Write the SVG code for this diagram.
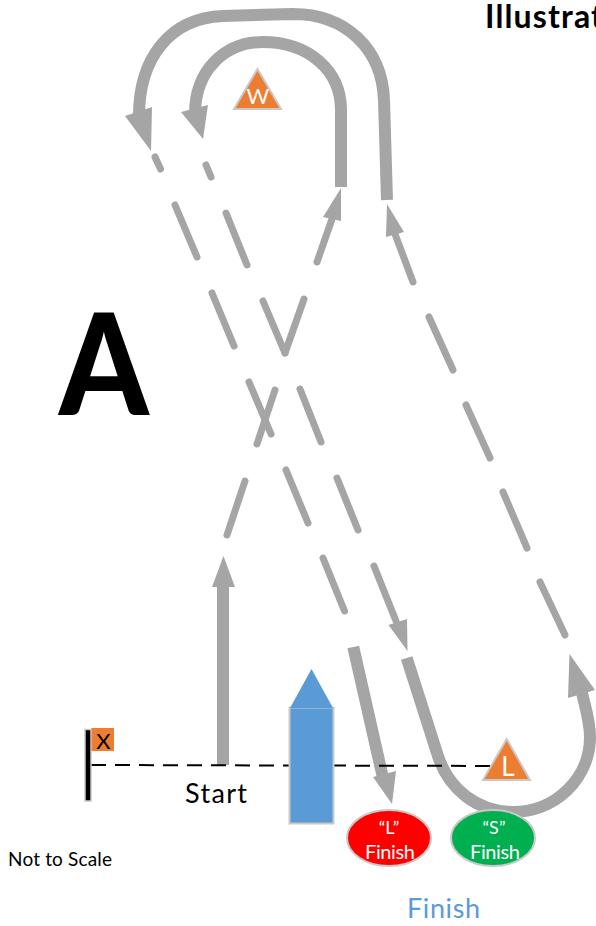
<svg xmlns="http://www.w3.org/2000/svg" width="596" height="926" viewBox="0 0 596 926">
<style>
text{font-family:"Lato","Liberation Sans",sans-serif}
.thick{fill:none;stroke:#a5a5a5;stroke-width:12}
.dash{fill:none;stroke:#a5a5a5;stroke-width:7;stroke-linecap:round;stroke-linejoin:round}
.head{fill:#a5a5a5}
.mark{fill:#ed7d31;stroke:#c9c9c9;stroke-width:2}
.wt{fill:#fff;text-anchor:middle}
.fin{stroke:#c9c9c9;stroke-width:2}
</style>
<rect width="596" height="926" fill="#fff"/>
<g id="connectors">
<path class="thick" d="M387 200L384 100C382 48 345 14 293 14L223 16C170 18 139 58 139 116"/>
<polygon class="head" points="125,116 152,107 151,151"/>
<path class="thick" d="M341 187V110C341 70 308 42 263 42C225 42 195 70 195 114"/>
<polygon class="head" points="181,112 208,105 203,139"/>
<path class="dash" d="M155 157L160.500 169M175 205L197 257M212 293L234 346M249 382L271 434M286 470L308 523M323 558L344.500 611"/>
<path class="dash" d="M206 165L211 177M226 213L247 265M263 301L285 353M300 389L321 442M337 478L358 530M374 566L396 621"/>
<polygon class="head" points="388.500,625 407,619 407.500,651"/>
<path class="dash" d="M227 535L245 481M257 444L275 390M285 353L304 299M317 262L332 219"/>
<polygon class="head" points="323,217 341,221 341,188"/>
<path class="dash" d="M565 635L540 582M527 548L503 492M490 458L466 405M453 370L429 317M413 282L395 234"/>
<polygon class="head" points="386,237 404,232 387,204"/>
<path class="thick" d="M223 765V585"/>
<polygon class="head" points="212,587 235,587 223.500,556"/>
<path class="thick" d="M353.300 647L383 778"/>
<polygon class="head" points="373,777 396,771 392,804"/>
<path class="thick" d="M406.700 658L437 753C448 790 478 812 513 812A77 75 0 0 0 590 737C590 722 586 710 582 693"/>
<polygon class="head" points="568,698 595,690 569.500,654"/>
</g>
<g id="start-line"><path d="M91 765L507 766" fill="none" stroke="#000" stroke-width="2" stroke-dasharray="15 9"/></g>
<g id="boat">
<rect x="289.500" y="707.500" width="44" height="116" fill="#5b9bd5" stroke="#c9c9c9" stroke-width="2"/>
<polygon points="311.500,669 290,708 333,708" fill="#5b9bd5"/>
</g>
<g id="mark-w">
<polygon class="mark" points="257.500,69 234,109 281,109"/>
<text class="wt" x="258" y="104" font-size="22" textLength="20">W</text>
</g>
<g id="mark-l">
<polygon class="mark" points="506.700,739 483,780 530,780"/>
<text class="wt" x="508" y="776" font-size="26" textLength="10">L</text>
</g>
<g id="mark-x">
<rect x="85" y="729.500" width="6" height="71.500" fill="#000" stroke="#c9c9c9" stroke-width="1.500"/>
<rect x="91.500" y="728" width="22.500" height="23" fill="#ed7d31"/>
<text x="103.500" y="749" font-size="22" text-anchor="middle" fill="#000">X</text>
</g>
<g id="finish-l">
<ellipse class="fin" cx="389" cy="838" rx="42" ry="28" fill="#f00"/>
<text class="wt" x="389" y="834" font-size="18">“L”</text>
<text class="wt" x="390" y="859" font-size="20" textLength="50">Finish</text>
</g>
<g id="finish-s">
<ellipse class="fin" cx="493" cy="838" rx="42" ry="28" fill="#00b050"/>
<text class="wt" x="494" y="834" font-size="18">“S”</text>
<text class="wt" x="495" y="859" font-size="20" textLength="50">Finish</text>
</g>
<g id="labels">
<text x="485" y="28" font-size="32" font-weight="700" fill="#000" textLength="118">Illustrat</text>
<text transform="translate(59 415) scale(.9 1)" font-size="142" font-weight="900" fill="#000">A</text>
<text x="185" y="803" font-size="27" fill="#000" textLength="62">Start</text>
<text x="8" y="866" font-size="19" fill="#000" textLength="104">Not to Scale</text>
<text x="407" y="918" font-size="27" fill="#5b9bd5" textLength="73">Finish</text>
</g>
</svg>
